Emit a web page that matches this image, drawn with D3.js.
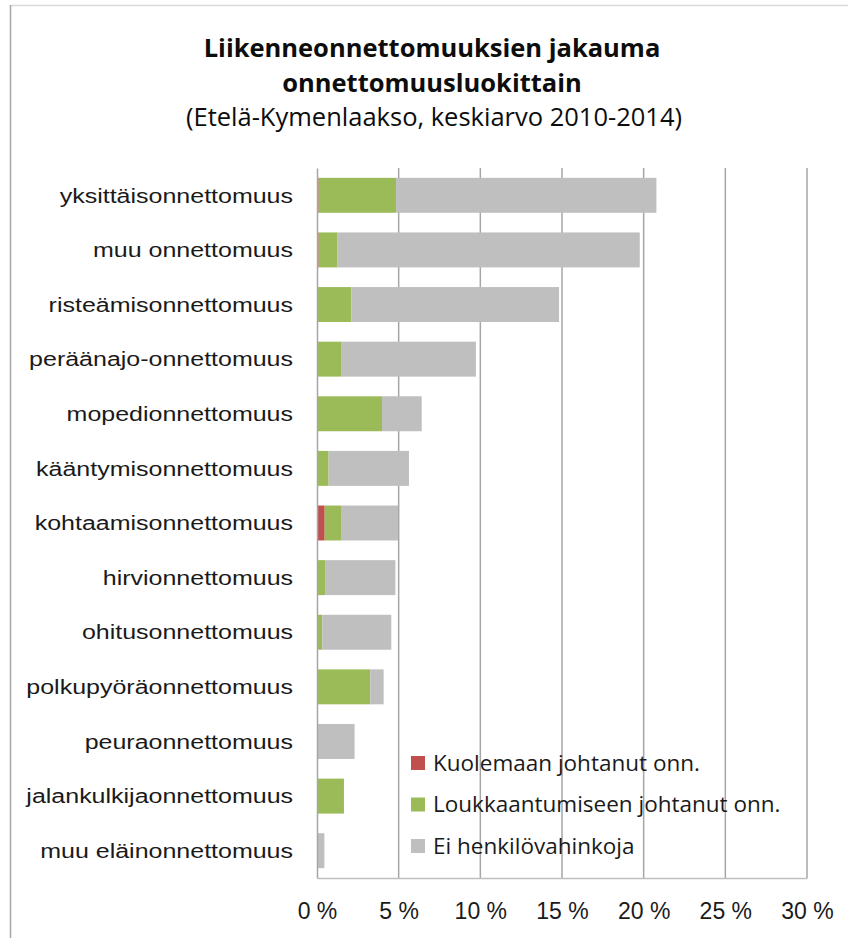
<!DOCTYPE html>
<html>
<head>
<meta charset="utf-8">
<script src="https://cdn.jsdelivr.net/npm/d3@7"></script>
<style>
  html, body { margin: 0; padding: 0; background: #fff; }
  svg { display: block; font-family: "Open Sans", Lato, sans-serif; }
</style>
</head>
<body>
<div id="chart"></div>
<script>
// Categories (top to bottom) and shares in percent
const categories = [
    'yksittäisonnettomuus', 'muu onnettomuus', 'risteämisonnettomuus', 'peräänajo-onnettomuus',
    'mopedionnettomuus', 'kääntymisonnettomuus', 'kohtaamisonnettomuus', 'hirvionnettomuus',
    'ohitusonnettomuus', 'polkupyöräonnettomuus', 'peuraonnettomuus', 'jalankulkijaonnettomuus',
    'muu eläinonnettomuus'
];
const fatal   = [0.10, 0.10, 0.00, 0.00, 0.00, 0.00, 0.47, 0.00, 0.00, 0.00, 0.00, 0.00, 0.00];
const injury  = [4.74, 1.16, 2.10, 1.47, 3.98, 0.71, 1.00, 0.53, 0.32, 3.26, 0.00, 1.65, 0.00];
const noHarm  = [15.94, 18.50, 12.72, 8.26, 2.43, 4.92, 3.49, 4.27, 4.23, 0.82, 2.30, 0.00, 0.45];
const seriesNames = ['Kuolemaan johtanut onn.', 'Loukkaantumiseen johtanut onn.', 'Ei henkilövahinkoja'];
const xTicks = [0, 5, 10, 15, 20, 25, 30];

const COLORS = ['#C0504D', '#9BBB59', '#BFBFBF'];

const W = 848, H = 938;
const margin = { top: 168, right: 41, bottom: 60, left: 317 };
const width = W - margin.left - margin.right;
const height = H - margin.top - margin.bottom;

const svg = d3.select('#chart').append('svg').attr('width', W).attr('height', H);

// Outer frame (top and left edge visible)
svg.append('line').attr('x1', 10.5).attr('x2', W).attr('y1', 5.5).attr('y2', 5.5)
    .attr('stroke', '#d9d9d9').attr('stroke-width', 1.5);
svg.append('line').attr('x1', 10.5).attr('x2', 10.5).attr('y1', 5).attr('y2', H)
    .attr('stroke', '#a6a6a6').attr('stroke-width', 1.5);

// Title
const title = svg.append('g').attr('text-anchor', 'middle').attr('fill', '#0d0d0d');
title.append('text').attr('x', 432).attr('y', 57)
    .style('font-size', '25.5px').style('font-weight', 'bold')
    .text('Liikenneonnettomuuksien jakauma');
title.append('text').attr('x', 432).attr('y', 92)
    .style('font-size', '25.5px').style('font-weight', 'bold')
    .text('onnettomuusluokittain');
title.append('text').attr('x', 434).attr('y', 126)
    .style('font-size', '25.5px')
    .text('(Etelä-Kymenlaakso, keskiarvo 2010-2014)');

const g = svg.append('g').attr('transform', `translate(${margin.left},${margin.top})`);

const x = d3.scaleLinear().domain([0, 30]).range([0, width]);
const y = d3.scaleBand().domain(categories).range([0, height]).paddingInner(0.36).paddingOuter(0.18);

// Gridlines
g.append('g').selectAll('line').data(xTicks.slice(1)).join('line')
    .attr('x1', d => x(d)).attr('x2', d => x(d))
    .attr('y1', 0).attr('y2', height)
    .attr('stroke', '#a6a6a6').attr('stroke-width', 1.5);

// Stack
const rows = categories.map((c, i) => ({ cat: c, s0: fatal[i], s1: injury[i], s2: noHarm[i] }));
const stack = d3.stack().keys(['s0', 's1', 's2'])(rows);

g.append('g').selectAll('g').data(stack).join('g')
    .attr('fill', (d, i) => COLORS[i])
    .selectAll('rect').data(d => d).join('rect')
    .attr('x', d => x(d[0]))
    .attr('y', d => y(d.data.cat))
    .attr('width', d => Math.max(0, x(d[1]) - x(d[0])))
    .attr('height', y.bandwidth());

// Axes
const xAxis = g.append('g').attr('transform', `translate(0,${height})`)
    .call(d3.axisBottom(x).tickValues(xTicks).tickSize(0).tickPadding(25).tickFormat(d => d + ' %'));
xAxis.select('.domain').attr('stroke', '#bfbfbf').attr('stroke-width', 1.5);
xAxis.selectAll('text').style('font-size', '23px').attr('fill', '#1a1a1a');

// Category labels look horizontally stretched in the original, so widen them a bit
const labelStretch = 1.25;
const yAxis = g.append('g')
    .call(d3.axisLeft(y).tickSize(0));
yAxis.select('.domain').attr('stroke', '#a6a6a6').attr('stroke-width', 1.5);
yAxis.selectAll('.tick text')
    .attr('x', -24 / labelStretch)
    .attr('dy', '0.36em')
    .attr('transform', `scale(${labelStretch},1)`)
    .style('font-size', '20px').attr('fill', '#1a1a1a');

// Legend
const legend = svg.append('g').attr('transform', 'translate(411,763)');
const items = legend.selectAll('g').data(seriesNames).join('g')
    .attr('transform', (d, i) => `translate(0,${i * 41.5})`);
items.append('rect').attr('x', 0).attr('y', -7).attr('width', 14).attr('height', 14)
    .attr('fill', (d, i) => COLORS[i]);
items.append('text').attr('x', 22).attr('y', 0).attr('dy', '0.35em')
    .style('font-size', '22.5px').attr('fill', '#1a1a1a')
    .text(d => d);
</script>
</body>
</html>
